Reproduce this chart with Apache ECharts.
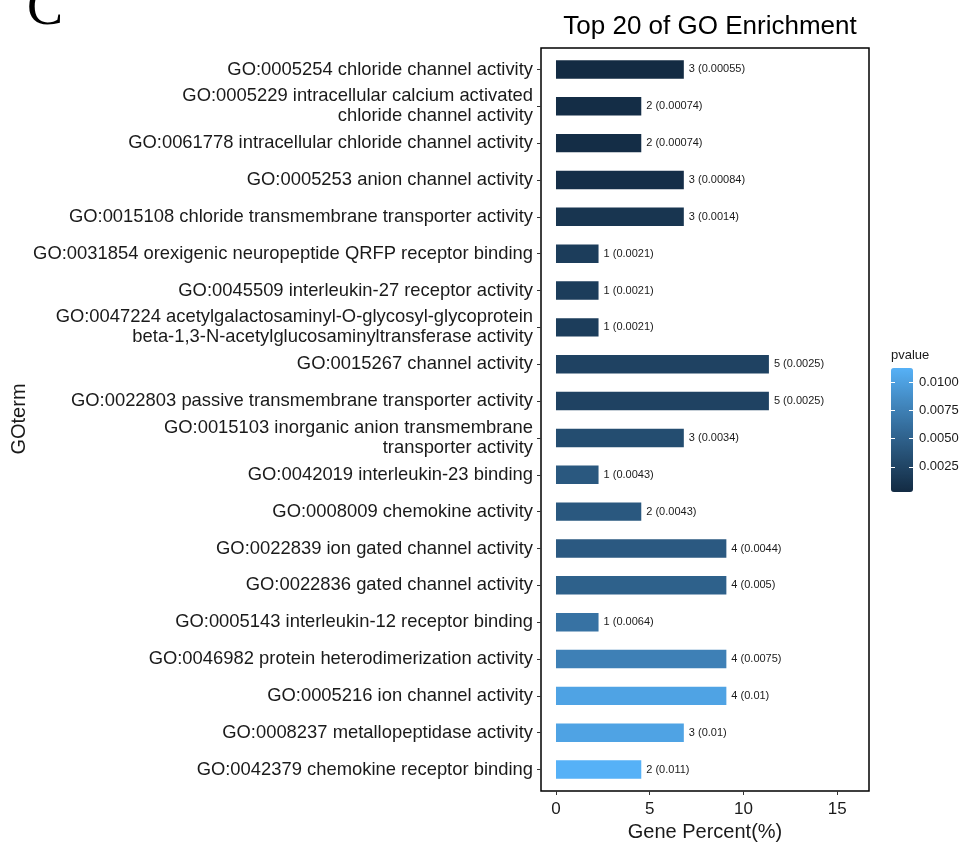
<!DOCTYPE html>
<html>
<head>
<meta charset="utf-8">
<script src="https://cdn.jsdelivr.net/npm/echarts@6/dist/echarts.min.js"></script>
<style>
  html, body { margin: 0; padding: 0; background: #fff; }
  #chart { width: 969px; height: 842px; }
</style>
</head>
<body>
<div id="chart"></div>
<script>
// GO terms, top to bottom
const goTerms = [
  'GO:0005254 chloride channel activity',
  'GO:0005229 intracellular calcium activated\nchloride channel activity',
  'GO:0061778 intracellular chloride channel activity',
  'GO:0005253 anion channel activity',
  'GO:0015108 chloride transmembrane transporter activity',
  'GO:0031854 orexigenic neuropeptide QRFP receptor binding',
  'GO:0045509 interleukin-27 receptor activity',
  'GO:0047224 acetylgalactosaminyl-O-glycosyl-glycoprotein\nbeta-1,3-N-acetylglucosaminyltransferase activity',
  'GO:0015267 channel activity',
  'GO:0022803 passive transmembrane transporter activity',
  'GO:0015103 inorganic anion transmembrane\ntransporter activity',
  'GO:0042019 interleukin-23 binding',
  'GO:0008009 chemokine activity',
  'GO:0022839 ion gated channel activity',
  'GO:0022836 gated channel activity',
  'GO:0005143 interleukin-12 receptor binding',
  'GO:0046982 protein heterodimerization activity',
  'GO:0005216 ion channel activity',
  'GO:0008237 metallopeptidase activity',
  'GO:0042379 chemokine receptor binding'
];
// number of genes per term
const geneCounts = [3, 2, 2, 3, 3, 1, 1, 1, 5, 5, 3, 1, 2, 4, 4, 1, 4, 4, 3, 2];
// gene percent (%) per term
const genePercent = [6.82, 4.55, 4.55, 6.82, 6.82, 2.27, 2.27, 2.27, 11.36, 11.36,
                     6.82, 2.27, 4.55, 9.09, 9.09, 2.27, 9.09, 9.09, 6.82, 4.55];
// enrichment p-values
const pValues = [0.00055, 0.00074, 0.00074, 0.00084, 0.0014, 0.0021, 0.0021, 0.0021, 0.0025, 0.0025,
                 0.0034, 0.0043, 0.0043, 0.0044, 0.005, 0.0064, 0.0075, 0.01, 0.01, 0.011];
// axis ticks
const xTicks = [0, 5, 10, 15];
const pTicks = [0.0025, 0.005, 0.0075, 0.01];

const FONT = 'Liberation Sans, Arial, sans-serif';
const TXT = '#1a1a1a';
const xMin = -0.8, xMax = 16.7;
const pMin = Math.min(...pValues), pMax = Math.max(...pValues);

// colour bar geometry; tick scale is inset by half a bin (20 bins)
const cbar = { left: 891, top: 368, width: 22, height: 124 };
const binPad = cbar.height / 40;

const rows = genePercent.map((v, i) => [v, i, pValues[i]]);

const chart = echarts.init(document.getElementById('chart'), null, { renderer: 'canvas' });

chart.setOption({
  animation: false,
  backgroundColor: '#fff',
  title: {
    text: 'Top 20 of GO Enrichment',
    left: 705, top: 9, textAlign: 'center',
    textStyle: { fontFamily: FONT, fontSize: 26, fontWeight: 'normal', color: '#000' }
  },
  grid: [
    // panel frame
    { left: 541, top: 48, width: 328, height: 743, show: true, borderColor: '#000', borderWidth: 1.5,
      backgroundColor: 'transparent', outerBoundsMode: 'none', containLabel: false },
    // bar area (category band inset)
    { left: 541, top: 51, width: 328, height: 737, outerBoundsMode: 'none', containLabel: false },
    // colour bar axes
    { left: cbar.left, top: cbar.top + binPad, width: cbar.width, height: cbar.height - 2 * binPad,
      outerBoundsMode: 'none', containLabel: false }
  ],
  xAxis: [
    {
      gridIndex: 0, type: 'value', min: xMin, max: xMax,
      name: 'Gene Percent(%)', nameLocation: 'middle', nameGap: 29,
      nameTextStyle: { fontFamily: FONT, fontSize: 20, color: TXT },
      axisLine: { show: false, onZero: false },
      axisTick: { show: true, length: 4, customValues: xTicks, lineStyle: { color: '#333', width: 1 } },
      axisLabel: { customValues: xTicks, fontFamily: FONT, fontSize: 17, color: TXT, margin: 10 },
      splitLine: { show: false }
    },
    { gridIndex: 1, type: 'value', min: xMin, max: xMax, show: false },
    { gridIndex: 2, type: 'value', min: 0, max: 1, show: false }
  ],
  yAxis: [
    { gridIndex: 0, type: 'value', show: false },
    {
      gridIndex: 1, type: 'category', data: goTerms, inverse: true,
      axisLine: { show: false, onZero: false },
      axisTick: { show: true, alignWithLabel: true, length: 4, lineStyle: { color: '#333' } },
      axisLabel: { fontFamily: FONT, fontSize: 18.4, color: TXT, margin: 8, lineHeight: 20, align: 'right' },
      splitLine: { show: false }
    },
    {
      gridIndex: 2, type: 'value', min: pMin, max: pMax, position: 'right', z: 10,
      axisLine: { show: false, onZero: false },
      axisTick: { show: true, inside: true, length: 4, customValues: pTicks, lineStyle: { color: '#fff', width: 1 } },
      axisLabel: {
        customValues: pTicks, fontFamily: FONT, fontSize: 13, color: TXT, margin: 6,
        formatter: v => v.toFixed(4)
      },
      splitLine: { show: false }
    },
    {
      gridIndex: 2, type: 'value', min: pMin, max: pMax, position: 'left', z: 10,
      axisLine: { show: false, onZero: false },
      axisTick: { show: true, inside: true, length: 4, customValues: pTicks, lineStyle: { color: '#fff', width: 1 } },
      axisLabel: { show: false },
      splitLine: { show: false }
    }
  ],
  visualMap: {
    type: 'continuous',
    seriesIndex: 0, dimension: 2,
    min: pMin, max: pMax,
    left: cbar.left, top: cbar.top, itemWidth: cbar.width, itemHeight: cbar.height,
    padding: 0, calculable: false, hoverLink: false,
    text: null, showLabel: false,
    inRange: { color: ['#132B43', '#234A6C', '#336A98', '#448CC5', '#56B1F7'] }
  },
  series: [{
    type: 'bar',
    xAxisIndex: 1, yAxisIndex: 1,
    data: rows,
    encode: { x: 0, y: 1 },
    barWidth: '50%',
    label: {
      show: true, position: 'right', distance: 5,
      fontFamily: FONT, fontSize: 11, color: TXT,
      formatter: p => geneCounts[p.dataIndex] + ' (' + pValues[p.dataIndex] + ')'
    }
  }],
  graphic: [
    {
      type: 'text', left: 891, top: 349,
      style: { text: 'pvalue', fontFamily: FONT, fontSize: 13, fill: TXT }
    },
    {
      type: 'text', x: 19, y: 419, rotation: Math.PI / 2,
      style: { text: 'GOterm', fontFamily: FONT, fontSize: 20, fill: TXT, align: 'center', verticalAlign: 'middle' }
    },
    {
      type: 'text', x: 27, y: 10,
      style: { text: 'C', fontFamily: 'Liberation Serif, Times New Roman, serif', fontSize: 54, fill: '#000', align: 'left', verticalAlign: 'middle' }
    }
  ]
});
</script>
</body>
</html>
